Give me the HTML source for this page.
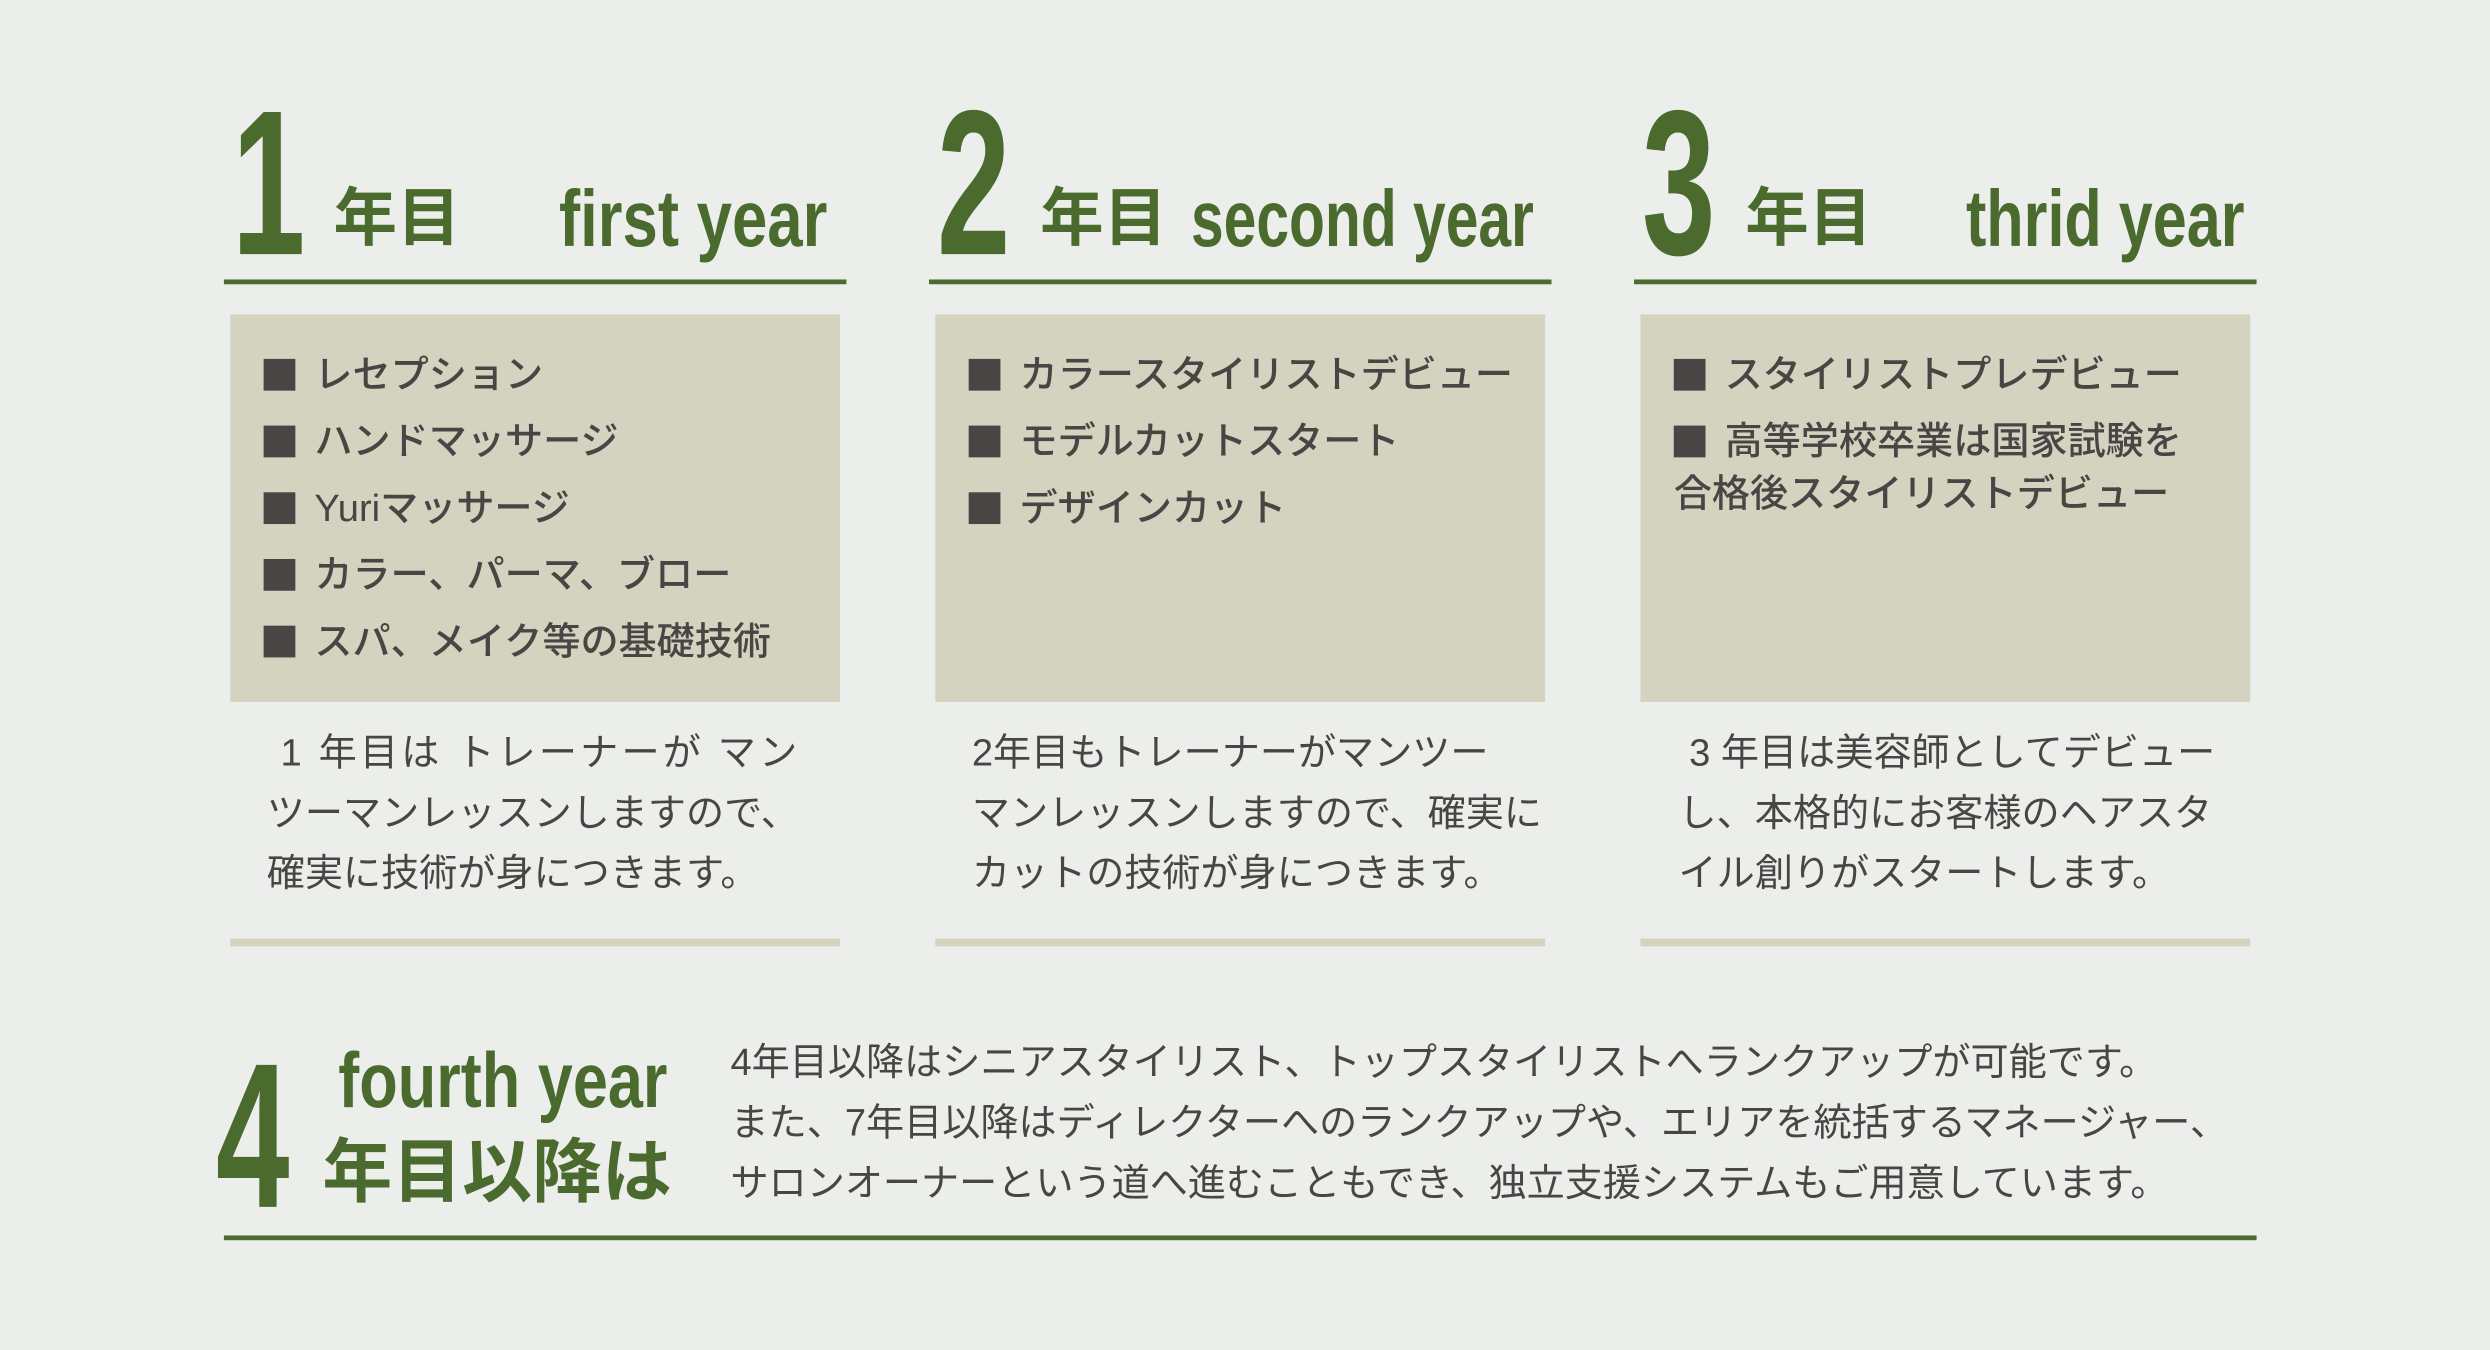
<!DOCTYPE html>
<html><head><meta charset="utf-8"><style>
html,body{margin:0;padding:0;background:#eceeec;}
body{width:2490px;height:1350px;overflow:hidden;position:relative;}
#s{position:absolute;left:0;top:0;width:1568px;height:850px;transform:scale(1.588);transform-origin:0 0;font-family:"Liberation Sans","Noto Sans CJK JP",sans-serif;}
.a{position:absolute;white-space:nowrap;}
.g{color:#4a6a2e;font-weight:bold;}
.num{font-size:130px;line-height:1;transform:scaleX(0.64);transform-origin:0 0;}
.jy{font-size:40px;line-height:1;}
.en{font-size:50px;line-height:1;transform:scaleX(0.72);transform-origin:0 0;}
.ul{position:absolute;height:3px;background:#4a6a2e;}
.box{position:absolute;width:384px;height:244px;background:#d4d3c0;}
.bar{position:absolute;width:384px;height:5px;background:#d4d3c0;}
.it{position:absolute;font-size:24px;line-height:1;color:#4a4545;white-space:nowrap;font-weight:500;}
.sq{display:inline-block;width:20px;height:20px;background:#4a4545;margin-right:12px;vertical-align:-2px;}
.p{position:absolute;font-size:24px;line-height:38px;color:#4a4545;white-space:nowrap;}
</style></head><body><div id="s">

<!-- col1 -->
<div class="a g num" style="left:146px;top:50px">1</div>
<div class="a g jy" style="left:210px;top:118px">年目</div>
<div class="a g en" style="left:352px;top:113px;transform:scaleX(0.8)">first year</div>
<div class="ul" style="left:141px;top:176px;width:392px"></div>
<div class="box" style="left:145px;top:198px"></div>
<div class="it" style="left:166px;top:225px"><span class="sq"></span>レセプション</div>
<div class="it" style="left:166px;top:267px"><span class="sq"></span>ハンドマッサージ</div>
<div class="it" style="left:166px;top:309px"><span class="sq"></span>Yuriマッサージ</div>
<div class="it" style="left:166px;top:351px"><span class="sq"></span>カラー、パーマ、ブロー</div>
<div class="it" style="left:166px;top:393px"><span class="sq"></span>スパ、メイク等の基礎技術</div>
<div class="p" style="left:168px;top:456px"><span style="letter-spacing:2px">&nbsp;1 年目は トレーナーが マン</span><br>ツーマンレッスンしますので、<br>確実に技術が身につきます。</div>
<div class="bar" style="left:145px;top:591px"></div>

<!-- col2 -->
<div class="a g num" style="left:590px;top:50px">2</div>
<div class="a g jy" style="left:655px;top:118px">年目</div>
<div class="a g en" style="left:750px;top:113px;transform:scaleX(0.74)">second year</div>
<div class="ul" style="left:585px;top:176px;width:392px"></div>
<div class="box" style="left:589px;top:198px"></div>
<div class="it" style="left:610px;top:225px"><span class="sq"></span>カラースタイリストデビュー</div>
<div class="it" style="left:610px;top:267px"><span class="sq"></span>モデルカットスタート</div>
<div class="it" style="left:610px;top:309px"><span class="sq"></span>デザインカット</div>
<div class="p" style="left:612px;top:456px">2年目もトレーナーがマンツー<br>マンレッスンしますので、確実に<br>カットの技術が身につきます。</div>
<div class="bar" style="left:589px;top:591px"></div>

<!-- col3 -->
<div class="a g num" style="left:1034px;top:50px">3</div>
<div class="a g jy" style="left:1099px;top:118px">年目</div>
<div class="a g en" style="left:1238px;top:113px;transform:scaleX(0.77)">thrid year</div>
<div class="ul" style="left:1029px;top:176px;width:392px"></div>
<div class="box" style="left:1033px;top:198px"></div>
<div class="it" style="left:1054px;top:225px"><span class="sq"></span>スタイリストプレデビュー</div>
<div class="it" style="left:1054px;top:267px"><span class="sq"></span>高等学校卒業は国家試験を</div>
<div class="it" style="left:1054px;top:300px">合格後スタイリストデビュー</div>
<div class="p" style="left:1057px;top:456px">&nbsp;3 年目は美容師としてデビュー<br>し、本格的にお客様のヘアスタ<br>イル創りがスタートします。</div>
<div class="bar" style="left:1033px;top:591px"></div>

<!-- bottom -->
<div class="a g" style="left:136px;top:650px;font-size:130px;line-height:1;transform:scaleX(0.64);transform-origin:0 0">4</div>
<div class="a g en" style="left:213px;top:657px;font-size:49px;transform:scaleX(0.81)">fourth year</div>
<div class="a g" style="left:203px;top:717px;font-size:44px;line-height:1">年目以降は</div>
<div class="p" style="left:460px;top:651px;font-size:24px;line-height:38px">4年目以降はシニアスタイリスト、トップスタイリストへランクアップが可能です。<br>また、7年目以降はディレクターへのランクアップや、エリアを統括するマネージャー、<br>サロンオーナーという道へ進むこともでき、独立支援システムもご用意しています。</div>
<div class="ul" style="left:141px;top:778px;width:1280px"></div>
</div></body></html>
